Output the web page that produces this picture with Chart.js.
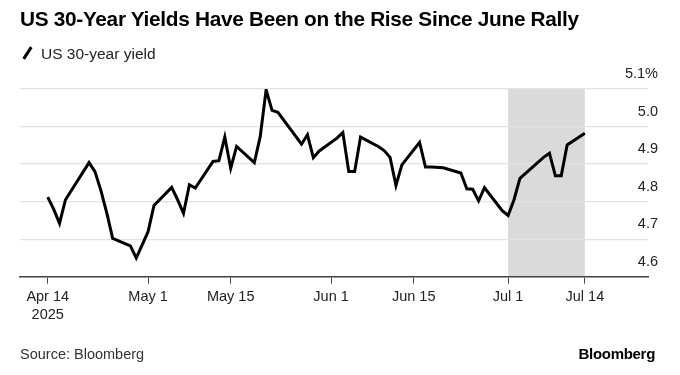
<!DOCTYPE html>
<html>
<head>
<meta charset="utf-8">
<script src="https://cdn.jsdelivr.net/npm/chart.js@4.4.1/dist/chart.umd.min.js"></script>
<style>
  body { margin:0; background:#fff; }
  #wrap { position:relative; width:680px; height:375px; font-family:"Liberation Sans", Arial, sans-serif; color:#000; }
  #title { position:absolute; left:20px; top:7px; font-size:20.8px; font-weight:bold; letter-spacing:-0.3px; white-space:nowrap; }
  #legend { position:absolute; left:20px; top:45px; font-size:15.5px; color:#222; white-space:nowrap; }
  #legend .mark { display:inline-block; width:3px; height:14px; background:#000; transform:rotate(33deg); margin:0 12px 0 6px; vertical-align:-1px; }
  #source { position:absolute; left:20px; top:346px; font-size:14.5px; color:#333; }
  #brand { position:absolute; right:25px; top:345px; font-size:15px; font-weight:bold; letter-spacing:-0.3px; }
  canvas { position:absolute; left:0; top:0; }
</style>
</head>
<body>
<div id="wrap">
  <canvas id="chart" width="680" height="375"></canvas>
  <div id="title">US 30-Year Yields Have Been on the Rise Since June Rally</div>
  <div id="legend"><span class="mark"></span>US 30-year yield</div>
  <div id="source">Source: Bloomberg</div>
  <div id="brand">Bloomberg</div>
</div>
<script>
Chart.defaults.font.family = '"Liberation Sans", Arial, sans-serif';

// daily closes
const dates = [
  "2025-04-14","2025-04-15","2025-04-16","2025-04-17","2025-04-21","2025-04-22","2025-04-23","2025-04-24","2025-04-25",
  "2025-04-28","2025-04-29","2025-04-30","2025-05-01","2025-05-02",
  "2025-05-05","2025-05-06","2025-05-07","2025-05-08","2025-05-09",
  "2025-05-12","2025-05-13","2025-05-14","2025-05-15","2025-05-16",
  "2025-05-19","2025-05-20","2025-05-21","2025-05-22","2025-05-23",
  "2025-05-27","2025-05-28","2025-05-29","2025-05-30",
  "2025-06-02","2025-06-03","2025-06-04","2025-06-05","2025-06-06",
  "2025-06-09","2025-06-10","2025-06-11","2025-06-12","2025-06-13",
  "2025-06-16","2025-06-17","2025-06-18","2025-06-20",
  "2025-06-23","2025-06-24","2025-06-25","2025-06-26","2025-06-27",
  "2025-06-30","2025-07-01","2025-07-02","2025-07-03",
  "2025-07-07","2025-07-08","2025-07-09","2025-07-10","2025-07-11",
  "2025-07-14"
];
const yields = [
  4.812, 4.78, 4.742, 4.805, 4.904, 4.88, 4.83, 4.77, 4.702,
  4.682, 4.65, 4.685, 4.72, 4.79,
  4.838, 4.805, 4.769, 4.845, 4.836,
  4.907, 4.909, 4.972, 4.889, 4.947,
  4.904, 4.973, 5.098, 5.043, 5.038,
  4.953, 4.978, 4.917, 4.935,
  4.969, 4.984, 4.88, 4.88, 4.972,
  4.947, 4.936, 4.918, 4.843, 4.898,
  4.958, 4.892, 4.892, 4.89,
  4.876, 4.834, 4.833, 4.802, 4.837,
  4.776, 4.763, 4.805, 4.862,
  4.918, 4.929, 4.869, 4.869, 4.951,
  4.982
];

const tickDates = ["2025-04-14","2025-05-01","2025-05-15","2025-06-01","2025-06-15","2025-07-01","2025-07-14"];
const tickLabels = [["Apr 14","2025"],"May 1","May 15","Jun 1","Jun 15","Jul 1","Jul 14"];
const shadeRange = ["2025-07-01","2025-07-14"];
const yTicks = [4.6, 4.7, 4.8, 4.9, 5.0, 5.1];

const DAY = 86400000;
const t0 = Date.parse(dates[0]);
const dayOf = (s) => (Date.parse(s) - t0) / DAY;

const points = dates.map((d, i) => ({ x: dayOf(d), y: yields[i] }));

const shadePlugin = {
  id: "shade",
  beforeDraw(chart){
    const { ctx, chartArea, scales } = chart;
    const x1 = scales.x.getPixelForValue(dayOf(shadeRange[0]));
    const x2 = scales.x.getPixelForValue(dayOf(shadeRange[1]));
    ctx.save();
    ctx.fillStyle = "#dadada";
    ctx.fillRect(x1, chartArea.top, x2 - x1, chartArea.bottom - chartArea.top);
    ctx.restore();
  }
};

new Chart(document.getElementById("chart"), {
  type: "line",
  data: {
    datasets: [{
      label: "US 30-year yield",
      data: points,
      borderColor: "#000",
      borderWidth: 3,
      pointRadius: 0,
      tension: 0,
      fill: false
    }]
  },
  options: {
    responsive: false,
    animation: false,
    events: [],
    layout: { padding: { left: 20, top: 89, right: 0, bottom: 0 } },
    plugins: { legend: { display: false }, tooltip: { enabled: false } },
    scales: {
      x: {
        type: "linear",
        min: -4.7,
        max: 101.7,
        afterBuildTicks: (s) => { s.ticks = tickDates.map(d => ({ value: dayOf(d) })); },
        afterFit: (s) => { s.height = 98.3; },
        ticks: {
          autoSkip: false,
          maxRotation: 0,
          padding: 5,
          color: "#222",
          font: { size: 14.5 },
          callback: (v, i) => tickLabels[i]
        },
        grid: { drawOnChartArea: false, drawTicks: true, tickLength: 7, tickColor: "#444", lineWidth: 1 },
        border: { display: true, color: "#444", width: 1.5 }
      },
      y: {
        position: "right",
        min: 4.6,
        max: 5.1,
        afterBuildTicks: (s) => { s.ticks = yTicks.map(v => ({ value: v })); },
        afterFit: (s) => { s.width = 32; },
        ticks: {
          mirror: true,
          padding: 10,
          labelOffset: -15,
          color: "#222",
          font: { size: 14.5 },
          callback: (v) => Math.abs(v - 5.1) < 1e-6 ? "5.1%" : v.toFixed(1)
        },
        grid: { color: "#e2e2e2", lineWidth: 1.3, drawTicks: false },
        border: { display: false }
      }
    }
  },
  plugins: [shadePlugin]
});
</script>
</body>
</html>
